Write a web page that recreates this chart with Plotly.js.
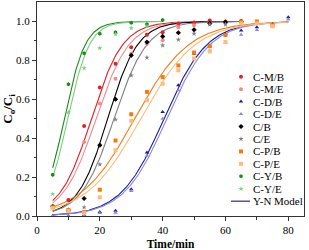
<!DOCTYPE html>
<html><head><meta charset="utf-8">
<script src="https://cdn.plot.ly/plotly-3.0.1.min.js"></script>
<style>html,body{margin:0;padding:0;background:#fff}#chart{width:309px;height:250px}</style>
</head><body><div id="chart"></div>
<script>
// ---- data ----
const tGreen = [5,10,15,20,25,30,35,40];
const tGreenE = [5,10,15,20,25,30,35];
const tMid = [5,10,15,20,25,30,35,40,45,50,55,60,65];
const tMidM = [10,15,20,25,30,35,40,45,50,55,60,65];
const tP = [5,10,15,20,25,30,35,40,45,50,55,60,65,70,75];
const tD = [5,10,15,20,25,30,35,40,45,50,55,60,65,70,75,80];

const cMB = [0.082,0.462,0.66,0.783,0.868,0.932,0.944,0.99,0.995,1.005,1.0,1.0];
const cME = [0.03,0.381,0.578,0.706,0.834,0.886,0.903,0.97,0.98,0.99,0.995,0.995];
const cDB = [0.0,0.0,0.005,0.02,0.027,0.137,0.327,0.535,0.672,0.834,0.873,0.935,0.954,0.97,0.985,1.022];
const cDE = [0.0,0.0,0.003,0.015,0.017,0.128,0.31,0.5,0.646,0.808,0.851,0.89,0.932,0.956,0.98,1.01];
const cB  = [0.05,0.03,0.09,0.364,0.6,0.826,0.894,0.923,0.942,0.957,0.99,0.997,1.0];
const cE  = [0.048,0.025,0.045,0.265,0.496,0.723,0.814,0.877,0.906,0.937,0.985,0.985,0.99];
const cPB = [0.045,0.031,0.02,0.135,0.388,0.523,0.638,0.714,0.774,0.84,0.873,0.93,1.0,1.0,0.98];
const cPE = [0.04,0.026,0.015,0.096,0.338,0.489,0.595,0.68,0.749,0.81,0.846,0.894,0.99,0.99,0.975];
const cYB = [0.212,0.677,0.837,0.937,0.945,0.993,0.985,1.008];
const cYE = [0.113,0.533,0.76,0.863,0.935,0.966,0.975];

const names = ['C-M/B','C-M/E','C-D/B','C-D/E','C/B','C/E','C-P/B','C-P/E','C-Y/B','C-Y/E'];
const times = [tMidM,tMidM,tD,tD,tMid,tMid,tP,tP,tGreen,tGreenE];
const vals = [cMB,cME,cDB,cDE,cB,cE,cPB,cPE,cYB,cYE];

// Yoon-Nelson model parameters (k in 1/min, tau in min), fitted by eye
const ynK   = [0.20,0.19,0.146,0.145,0.21,0.19,0.116,0.115,0.30,0.29];
const ynTau = [17.3,18.8,40.4,41.3,22.5,24.5,31.1,33.0,8.7,9.8];
const ynStart = [5,5,5,5,5,5,5,5,5,5];
const ynEnd = [65,65,80,80,65,65,80,80,40,40];
const modelName = 'Y-N Model';

// ---- styles ----
const colors = ['#e3202a','#f08c8c','#1c1c9c','#8888e4','#000000','#808080','#f57a10','#ffbb78','#1a8a1a','#7ccf7c'];
const symbols = ['circle','circle','triangle-up','triangle-up','diamond','star','square','square','hexagon','star'];

const traces = [];
for (let i=0;i<names.length;i++){
  const xs=[], ys=[];
  for (let t=ynStart[i]; t<=ynEnd[i]+1e-9; t+=0.25){
    xs.push(t); ys.push(1/(1+Math.exp(ynK[i]*(ynTau[i]-t))));
  }
  traces.push({x:xs,y:ys,mode:'lines',line:{color:colors[i],width:1.1},hoverinfo:'skip',showlegend:false,cliponaxis:false});
}
for (let i=0;i<names.length;i++){
  traces.push({x:times[i],y:vals[i],mode:'markers',name:names[i],
    marker:{color:colors[i],symbol:symbols[i],size:4,line:{width:0}},showlegend:false,cliponaxis:false});
}

// custom legend drawn on an overlay pixel-coordinate axis
const L = 37, R = 304, T = 2, B = 216;
const legX = 241, legY0 = 76.7, legDy = 12.45, legTextX = 251;
const annotations = [];
for (let i=0;i<names.length;i++){
  traces.push({x:[legX],y:[legY0+legDy*i],xaxis:'x2',yaxis:'y2',mode:'markers',
    marker:{color:colors[i],symbol:symbols[i],size:4,line:{width:0}},showlegend:false,hoverinfo:'skip',cliponaxis:false});
  annotations.push({xref:'x2',yref:'y2',x:legTextX,y:legY0+legDy*i,text:names[i],showarrow:false,xanchor:'left',yanchor:'middle',
    font:{family:'Liberation Serif',size:11,color:'#000'}});
}
const yModel = legY0+legDy*names.length;
traces.push({x:[231,250],y:[yModel,yModel],xaxis:'x2',yaxis:'y2',mode:'lines',line:{color:'#3a3a8a',width:1.3},showlegend:false,hoverinfo:'skip',cliponaxis:false});
annotations.push({xref:'x2',yref:'y2',x:legTextX,y:yModel,text:modelName,showarrow:false,xanchor:'left',yanchor:'middle',
  font:{family:'Liberation Serif',size:11,color:'#000'}});

const fontF = 'Liberation Serif';
const layout = {
  width:309,height:250,
  margin:{l:L,r:309-R,t:T,b:250-B,pad:0},
  paper_bgcolor:'#fff',plot_bgcolor:'#fff',
  font:{family:fontF,size:11,color:'#000'},
  showlegend:false,
  xaxis:{range:[0,85],tickvals:[0,20,40,60,80],ticks:'outside',ticklen:4,tickwidth:1,tickcolor:'#333',
    minor:{tickvals:[10,30,50,70],ticks:'outside',ticklen:2.5,tickwidth:1,tickcolor:'#333'},
    showline:true,linecolor:'#333',linewidth:1,mirror:true,showgrid:false,zeroline:false,
    tickfont:{family:fontF,size:11},
    title:{text:'<b>Time/min</b>',font:{family:fontF,size:11.5},standoff:4}},
  yaxis:{range:[0,1.1],tickvals:[0,0.2,0.4,0.6,0.8,1.0],ticktext:['0.0','0.2','0.4','0.6','0.8','1.0'],
    ticks:'outside',ticklen:4,tickwidth:1,tickcolor:'#333',
    minor:{tickvals:[0.1,0.3,0.5,0.7,0.9],ticks:'outside',ticklen:2.5,tickwidth:1,tickcolor:'#333'},
    showline:true,linecolor:'#333',linewidth:1,mirror:true,showgrid:false,zeroline:false,
    tickfont:{family:fontF,size:11},
    title:{text:'<b>C<sub>o</sub>/C<sub>i</sub></b>',font:{family:fontF,size:13},standoff:2}},
  xaxis2:{overlaying:'x',anchor:'y2',range:[L,R],visible:false,fixedrange:true},
  yaxis2:{overlaying:'y',anchor:'x2',range:[B,T],visible:false,fixedrange:true},
  annotations:annotations
};
Plotly.newPlot('chart',traces,layout,{displayModeBar:false,staticPlot:true});
</script></body></html>
